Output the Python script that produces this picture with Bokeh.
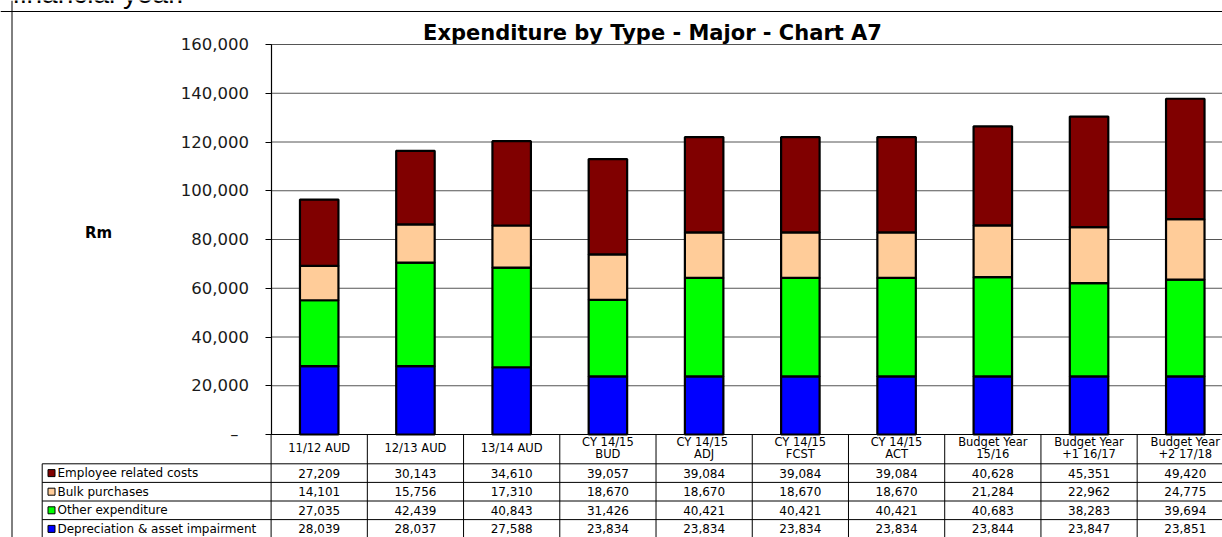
from bokeh.plotting import figure
from bokeh.models import Range1d, LinearAxis, FixedTicker, NumeralTickFormatter, Span, ColumnDataSource
from bokeh.core.properties import value
from bokeh.embed import file_html
from bokeh.resources import INLINE

# ---------------- data ----------------
categories = ["11/12 AUD", "12/13 AUD", "13/14 AUD", "CY 14/15\nBUD", "CY  14/15\nADJ",
              "CY 14/15\nFCST", "CY 14/15\nACT", "Budget Year\n15/16", "Budget Year\n+1 16/17",
              "Budget Year\n+2 17/18"]
series_names = ["Employee related costs", "Bulk purchases", "Other expenditure",
                "Depreciation & asset impairment"]
employee = [27209, 30143, 34610, 39057, 39084, 39084, 39084, 40628, 45351, 49420]
bulk = [14101, 15756, 17310, 18670, 18670, 18670, 18670, 21284, 22962, 24775]
other = [27035, 42439, 40843, 31426, 40421, 40421, 40421, 40683, 38283, 39694]
depreciation = [28039, 28037, 27588, 23834, 23834, 23834, 23834, 23844, 23847, 23851]
y_ticks = [0, 20000, 40000, 60000, 80000, 100000, 120000, 140000, 160000]
title_text = "Expenditure by Type - Major - Chart A7"
y_label = "Rm"
body_text = "financial year."

series_values = [employee, bulk, other, depreciation]
series_colors = ["#800000", "#FFCC99", "#00FF00", "#0000FF"]

# ---------------- geometry (page pixels -> data) ----------------
W, H = 1222, 537
AXIS_PX = 270.6
CAT_PX = 96.23
ZERO_PY = 434.0
TOP_PY = 44.0
S = y_ticks[-1] / (ZERO_PY - TOP_PY)


def dx(px):
    return (px - AXIS_PX) / CAT_PX


def dy(py):
    return (ZERO_PY - py) * S


x0, x1 = dx(0), dx(W)
yb, yt = dy(H), dy(0)

p = figure(width=W, height=H, x_range=Range1d(x0, x1), y_range=Range1d(yb, yt),
           output_backend="svg", toolbar_location=None,
           x_axis_location=None, y_axis_location=None, min_border=0,
           outline_line_color=None, background_fill_color="white",
           border_fill_color="white")
p.grid.visible = False

FONT = "DejaVu Sans"

# gridlines
grid_ticks = y_ticks[1:]
p.segment(x0=[0] * len(grid_ticks), x1=[x1] * len(grid_ticks), y0=grid_ticks, y1=grid_ticks,
          line_color="#555555", line_width=1)

# stacked bars
xs = [i + 0.5 for i in range(len(categories))]
src = ColumnDataSource(dict(x=xs, employee=employee, bulk=bulk, other=other,
                            depreciation=depreciation))
p.vbar_stack(["depreciation", "other", "bulk", "employee"], x="x", width=0.40,
             color=series_colors[::-1], line_color="black", line_width=2.2, source=src)

# y axis
ax = LinearAxis(fixed_location=0, bounds=(0, y_ticks[-1]), ticker=FixedTicker(ticks=y_ticks),
                formatter=NumeralTickFormatter(format="0,0"),
                major_label_overrides={0: "\u2013\u00a0\u00a0"},
                major_tick_out=6, major_tick_in=0, minor_tick_out=0, minor_tick_in=0,
                major_label_standoff=16, axis_line_color="black", axis_line_width=1.2,
                major_tick_line_color="black",
                major_label_text_font=FONT, major_label_text_font_size="16.5px",
                major_label_text_color="#1a1a1a")
p.add_layout(ax, "left")

# ---------------- data table ----------------
LEG_PX = 41.7
HEAD_BOTTOM = 463.3
ROW_H = 18.6
TFS = "12px"
n = len(categories)
bounds = list(range(0, n + 1))
p.segment(x0=bounds, x1=bounds, y0=[0] * len(bounds), y1=[yb] * len(bounds),
          line_color="black", line_width=1)
p.segment(x0=[dx(LEG_PX)], x1=[dx(LEG_PX)], y0=[dy(HEAD_BOTTOM)], y1=[yb],
          line_color="black", line_width=1)
hl = [0.0] + [dy(HEAD_BOTTOM + ROW_H * r) for r in range(4)]
hx0 = [0.0] + [dx(LEG_PX)] * 4
p.segment(x0=hx0, x1=[x1] * len(hl), y0=hl, y1=hl, line_color="black", line_width=1)

# header labels
p.text(x=xs, y=[dy(447.5)] * n, text=categories, text_align="center", text_baseline="middle",
       text_font=value(FONT), text_font_size="11.5px", text_line_height=0.8,
       text_color="black")

# rows
for r, (name, vals, col) in enumerate(zip(series_names, series_values, series_colors)):
    yc = dy(HEAD_BOTTOM + ROW_H * r + ROW_H / 2)
    p.text(x=xs, y=[yc] * n, text=[f"{v:,}" for v in vals], text_align="center",
           text_baseline="middle", text_font=value(FONT), text_font_size=TFS,
           text_color="black")
    p.text(x=[dx(57)], y=[yc], text=[name], text_align="left", text_baseline="middle",
           text_font=value(FONT), text_font_size=TFS, text_color="black")
    p.scatter(x=[dx(51)], y=[yc], marker="square", size=7, fill_color=col,
              line_color="black", line_width=1)

# title and axis label
p.text(x=[dx(652)], y=[dy(32)], text=[title_text], text_align="center", text_baseline="middle",
       text_font=value(FONT), text_font_style="bold", text_font_size="21px", text_color="black")
p.text(x=[dx(98)], y=[dy(232.5)], text=[y_label], text_align="center", text_baseline="middle",
       text_font=value(FONT), text_font_style="bold", text_font_size="15px", text_color="black")

# body text fragment above the chart (cut off by the page top)
p.text(x=[dx(12)], y=[dy(2.5)], y_offset=-10, text=[body_text], text_align="left",
       text_baseline="alphabetic", text_font=value("Liberation Sans"), text_font_size="28px",
       text_color="black")

# outer chart border
p.add_layout(Span(location=dy(11), dimension="width", line_color="black", line_width=1))
p.add_layout(Span(location=dx(11.5), dimension="height", line_color="black", line_width=1))

open("out.html", "w").write(file_html(p, INLINE))
